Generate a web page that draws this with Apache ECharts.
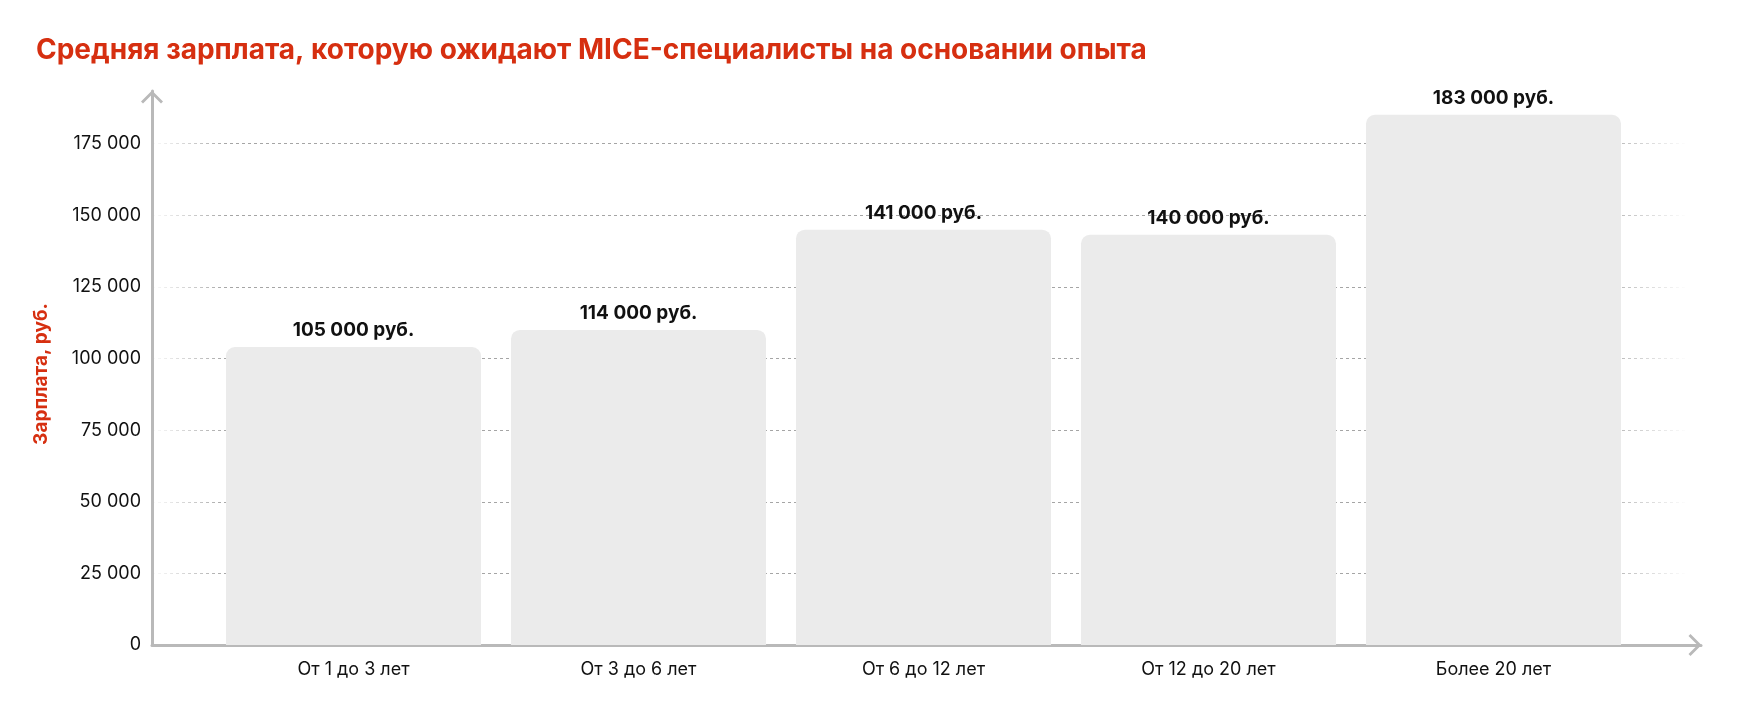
<!DOCTYPE html>
<html>
<head>
<meta charset="utf-8">
<script src="https://cdn.jsdelivr.net/npm/echarts@6/dist/echarts.min.js"></script>
<style>
  html, body { margin: 0; padding: 0; background: #ffffff; }
  #chart { width: 1740px; height: 710px; }
</style>
</head>
<body>
<div id="chart"></div>
<script>
// ---- Data ----
const titleText = 'Средняя зарплата, которую ожидают MICE-специалисты на основании опыта';
const yAxisName = 'Зарплата, руб.';
const categories = ['От 1 до 3 лет', 'От 3 до 6 лет', 'От 6 до 12 лет', 'От 12 до 20 лет', 'Более 20 лет'];
// bar heights as drawn in the picture
const barValues = [104000, 110000, 145000, 143200, 185100];
// values printed above the bars
const labelValues = [105000, 114000, 141000, 140000, 183000];
const labelUnit = ' руб.';
const yMin = 0;
const yMax = 193400;
const yInterval = 25000;

// ---- Helpers ----
function fmt(v) {
  return String(v).replace(/\B(?=(\d{3})+(?!\d))/g, ' ');
}

const RED = '#d62f10';
const AXIS = '#b9b9b9';
const FONT = 'Inter, "Noto Sans", sans-serif';
const chevron = 'path://M11,0 L22,11 L20,13 L11,4 L2,13 L0,11 Z';

const chart = echarts.init(document.getElementById('chart'), null, { renderer: 'canvas' });

const option = {
  backgroundColor: '#ffffff',
  animation: false,
  title: {
    text: titleText,
    left: 31,
    top: 32,
    textStyle: { color: RED, fontFamily: FONT, fontSize: 28, fontWeight: 700 }
  },
  grid: [
    { left: 152, right: 39, top: 91, bottom: 65, containLabel: false },
    { left: 211, right: 104, top: 91, bottom: 65, containLabel: false }
  ],
  xAxis: [
    {
      gridIndex: 0,
      type: 'value',
      min: 0, max: 1,
      axisLine: {
        show: true,
        onZero: false,
        lineStyle: { color: AXIS, width: 3 },
        symbol: ['none', chevron],
        symbolSize: [22, 13],
        symbolOffset: [0, -6]
      },
      axisTick: { show: false },
      axisLabel: { show: false },
      splitLine: { show: false }
    },
    {
      gridIndex: 1,
      type: 'category',
      data: categories,
      axisLine: { show: false },
      axisTick: { show: false },
      axisLabel: {
        show: true,
        margin: 16,
        color: '#111111',
        fontFamily: FONT,
        fontSize: 18
      },
      splitLine: { show: false }
    }
  ],
  yAxis: [
    {
      gridIndex: 0,
      type: 'value',
      min: yMin,
      max: yMax,
      interval: yInterval,
      name: yAxisName,
      nameLocation: 'middle',
      nameGap: 101,
      nameTextStyle: { color: RED, fontFamily: FONT, fontSize: 19, fontWeight: 700, padding: [0, 12, 0, 0] },
      axisLine: {
        show: true,
        onZero: false,
        lineStyle: { color: AXIS, width: 3 },
        symbol: ['none', chevron],
        symbolSize: [22, 13],
        symbolOffset: [0, -6]
      },
      axisTick: { show: false },
      axisLabel: {
        show: true,
        margin: 11,
        color: '#111111',
        fontFamily: FONT,
        fontSize: 18,
        showMaxLabel: false,
        formatter: function (v) { return v % yInterval === 0 ? fmt(v) : ''; }
      },
      splitLine: {
        show: true,
        showMinLine: false,
        showMaxLine: false,
        lineStyle: {
          type: [3, 3],
          width: 1,
          color: new echarts.graphic.LinearGradient(0, 0, 1, 0, [
            { offset: 0, color: 'rgba(165,165,165,0)' },
            { offset: 0.05, color: 'rgba(165,165,165,1)' },
            { offset: 0.93, color: 'rgba(165,165,165,1)' },
            { offset: 0.99, color: 'rgba(165,165,165,0)' },
            { offset: 1, color: 'rgba(165,165,165,0)' }
          ])
        }
      }
    },
    {
      gridIndex: 1,
      type: 'value',
      min: yMin,
      max: yMax,
      interval: yInterval,
      show: false,
      splitLine: { show: false }
    }
  ],
  series: [
    {
      type: 'bar',
      xAxisIndex: 1,
      yAxisIndex: 1,
      data: barValues,
      barCategoryGap: '10.5%',
      itemStyle: { color: '#ebebeb', borderRadius: [9, 9, 0, 0] },
      label: {
        show: true,
        position: 'top',
        distance: 7,
        color: '#111111',
        fontFamily: FONT,
        fontSize: 19,
        fontWeight: 700,
        formatter: function (p) { return fmt(labelValues[p.dataIndex]) + labelUnit; }
      },
      emphasis: { disabled: true }
    }
  ]
};

chart.setOption(option);
</script>
</body>
</html>
